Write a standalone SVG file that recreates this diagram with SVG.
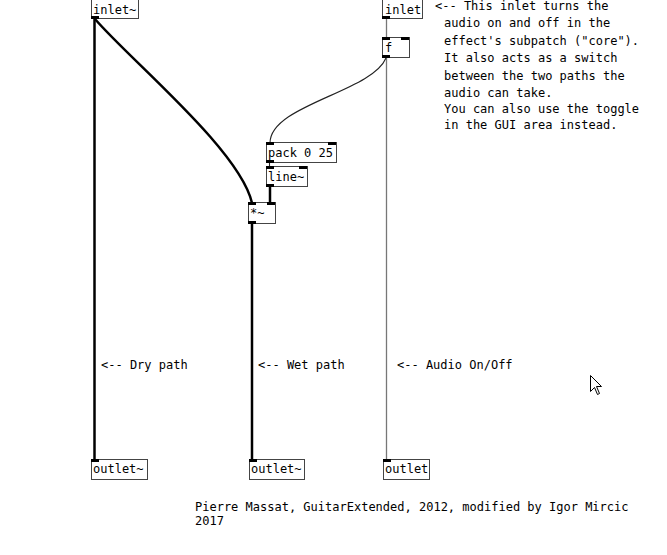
<svg xmlns="http://www.w3.org/2000/svg" width="667" height="555" viewBox="0 0 667 555">
<style>
.box{fill:#fff;stroke:#444;stroke-width:1}
.nub{fill:#000}
text{font-family:"DejaVu Sans Mono","Liberation Mono",monospace;font-size:12px;fill:#000}
.sig{fill:none;stroke:#000;stroke-width:2.5}
.ctl{fill:none;stroke:#777;stroke-width:1.3}
.msg{fill:none;stroke:#222;stroke-width:1.1}
</style>
<rect width="667" height="555" fill="#fff"/>
<g id="connectors">
<line class="sig" x1="94.5" y1="18" x2="94.5" y2="460"/>
<path class="sig" d="M95,19 C130,60 240,150 252,203"/>
<line class="sig" x1="270" y1="187" x2="270" y2="203"/>
<line class="sig" x1="252" y1="224" x2="252" y2="460"/>
<line class="msg" x1="269.5" y1="163" x2="269.5" y2="167"/>
<line class="ctl" x1="386.5" y1="18" x2="386.5" y2="38"/>
<line class="ctl" x1="386.5" y1="58" x2="386.5" y2="460"/>
<path class="msg" d="M386,58 C372,92 270,105 270,143"/>
</g>
<g id="inlet-sig">
<rect class="box" x="91.5" y="-1.5" width="47" height="20"/>
<rect class="nub" x="91" y="16" width="8" height="3"/>
<text x="93" y="14">inlet~</text>
</g>
<g id="inlet-ctl">
<rect class="box" x="382.5" y="-1.5" width="40" height="20"/>
<rect class="nub" x="382" y="16" width="8" height="3"/>
<text x="385" y="14">inlet</text>
</g>
<g id="f">
<rect class="box" x="382.5" y="37.5" width="27" height="20"/>
<rect class="nub" x="382" y="37" width="8" height="3"/>
<rect class="nub" x="401" y="37" width="8" height="3"/>
<rect class="nub" x="382" y="55" width="8" height="3"/>
<text x="385" y="52">f</text>
</g>
<g id="pack">
<rect class="box" x="266.5" y="142.5" width="70" height="20"/>
<rect class="nub" x="266" y="142" width="8" height="3"/>
<rect class="nub" x="328" y="142" width="8" height="3"/>
<rect class="nub" x="266" y="160" width="8" height="3"/>
<text x="268" y="157">pack 0 25</text>
</g>
<g id="line">
<rect class="box" x="266.5" y="166.5" width="41" height="20"/>
<rect class="nub" x="266" y="166" width="8" height="3"/>
<rect class="nub" x="299" y="166" width="8" height="3"/>
<rect class="nub" x="266" y="184" width="8" height="3"/>
<text x="268" y="181">line~</text>
</g>
<g id="mul">
<rect class="box" x="248.5" y="202.5" width="27" height="21"/>
<rect class="nub" x="248" y="202" width="8" height="3"/>
<rect class="nub" x="267" y="202" width="8" height="3"/>
<rect class="nub" x="248" y="221" width="8" height="3"/>
<text x="250" y="217">*~</text>
</g>
<g id="outlet-dry">
<rect class="box" x="91.5" y="459.5" width="56" height="20"/>
<rect class="nub" x="91" y="459" width="8" height="3"/>
<text x="93" y="473">outlet~</text>
</g>
<g id="outlet-wet">
<rect class="box" x="249.5" y="459.5" width="55" height="20"/>
<rect class="nub" x="249" y="459" width="8" height="3"/>
<text x="251" y="473">outlet~</text>
</g>
<g id="outlet-ctl">
<rect class="box" x="383.5" y="459.5" width="46" height="20"/>
<rect class="nub" x="383" y="459" width="8" height="3"/>
<text x="385" y="473">outlet</text>
</g>
<g id="comments">
<text x="435" y="10">&lt;-- This inlet turns the</text>
<text x="444" y="27">audio on and off in the</text>
<text x="444" y="45">effect's subpatch ("core").</text>
<text x="444" y="62">It also acts as a switch</text>
<text x="444" y="80">between the two paths the</text>
<text x="444" y="97">audio can take.</text>
<text x="444" y="113">You can also use the toggle</text>
<text x="444" y="129">in the GUI area instead.</text>
<text x="101" y="369">&lt;-- Dry path</text>
<text x="258" y="369">&lt;-- Wet path</text>
<text x="397" y="369">&lt;-- Audio On/Off</text>
<text x="195" y="511">Pierre Massat, GuitarExtended, 2012, modified by Igor Mircic</text>
<text x="195" y="525">2017</text>
</g>
<path d="M590.5,375.5 L590.5,391.5 L594.5,387.5 L597.5,394.5 L599.5,393.5 L596.5,386.5 L601.5,386.5 Z" fill="#fff" stroke="#000" stroke-width="1"/>
</svg>
